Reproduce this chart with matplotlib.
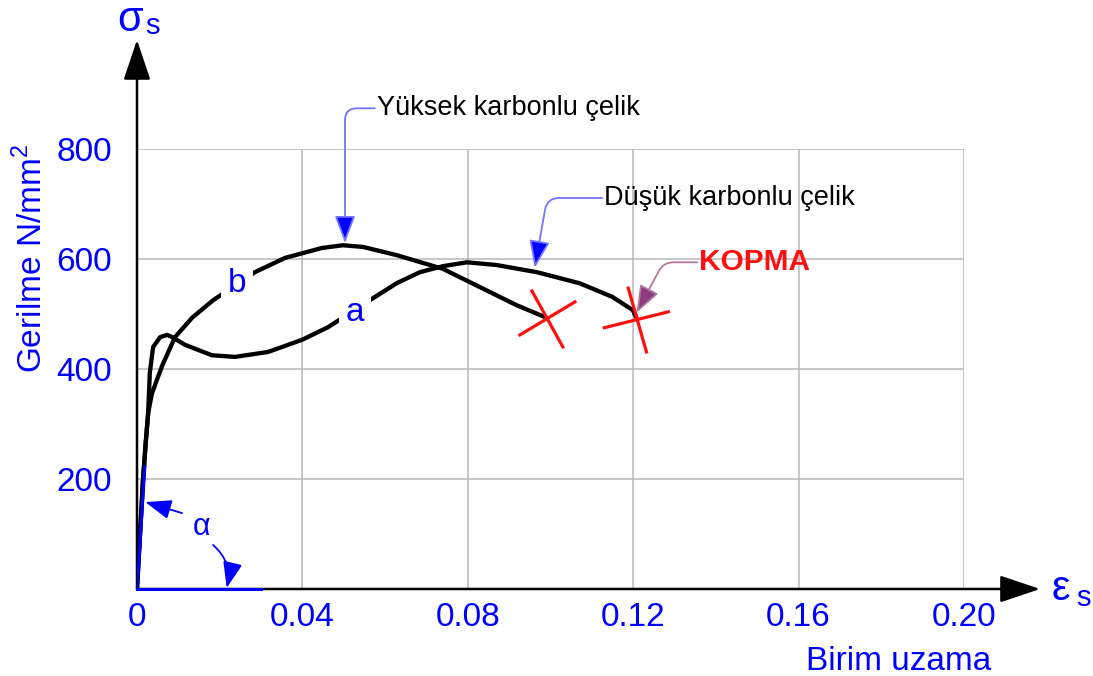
import numpy as np
import matplotlib.pyplot as plt

plt.rcParams['font.family'] = ['Liberation Sans', 'DejaVu Sans']
plt.rcParams['mathtext.fontset'] = 'custom'
plt.rcParams['mathtext.rm'] = 'Liberation Sans'

# a: dusuk karbonlu celik
eps_a = [0, 0.0007, 0.00145, 0.0021, 0.0027, 0.0031, 0.0039, 0.0056, 0.0073, 0.0085,
         0.0116, 0.0181, 0.0237, 0.0317, 0.0399, 0.0462, 0.0563, 0.0628, 0.0684, 0.074,
         0.0798, 0.087, 0.0967, 0.107, 0.115, 0.1199, 0.1208]
sig_a = [0, 95, 198, 265, 320, 393, 440, 458, 462, 458,
         444, 425, 422, 431, 453, 476, 525, 556, 576, 587,
         594, 589, 576, 556, 531, 507, 493]

# b: yuksek karbonlu celik
eps_b = [0, 0.0007, 0.00145, 0.0021, 0.0027, 0.0036, 0.0048, 0.0062, 0.0092, 0.0133,
         0.0184, 0.0285, 0.0358, 0.0447, 0.0498, 0.0546, 0.0628, 0.074, 0.0829, 0.0918,
         0.0991]
sig_b = [0, 95, 198, 265, 320, 355, 380, 408, 458, 493,
         525, 576, 602, 620, 625, 622, 607, 582, 549, 516,
         493]

# elastik bolge (mavi)
eps_e = [0, 0.0019]
sig_e = [0, 222]
eps_base = [0, 0.030]

xticks = [0, 0.04, 0.08, 0.12, 0.16, 0.20]
xticklabels = ['0', '0.04', '0.08', '0.12', '0.16', '0.20']
yticks = [200, 400, 600, 800]

BLUE = '#0000ff'
RED = '#ff1010'

fig = plt.figure(figsize=(10.93, 6.76), dpi=100)
ax = fig.add_axes([137/1093, 87/676, 827/1093, 440/676])
ax.set_xlim(0, 0.20)
ax.set_ylim(0, 800)
for s in ax.spines.values():
    s.set_visible(False)
ax.set_xticks(xticks, xticklabels)
ax.set_yticks(yticks)
ax.tick_params(length=0, labelsize=24, labelcolor=BLUE)
ax.tick_params(axis='x', pad=9)
ax.tick_params(axis='y', pad=18)
ax.grid(True, color='#b8b8b8', lw=1.1)
ax.set_axisbelow(True)

# eksen oklari
ax.annotate('', xy=(1.092, 0), xytext=(0, 0), xycoords='axes fraction',
            arrowprops=dict(arrowstyle='-|>,head_length=1.25,head_width=0.42', mutation_scale=20,
                            lw=1.8, color='black', shrinkA=0, shrinkB=0),
            annotation_clip=False, zorder=5)
ax.annotate('', xy=(0, 1.248), xytext=(0, 0), xycoords='axes fraction',
            arrowprops=dict(arrowstyle='-|>,head_length=1.25,head_width=0.42', mutation_scale=20,
                            lw=1.8, color='black', shrinkA=0, shrinkB=0),
            annotation_clip=False, zorder=5)

ax.text(-0.0085, 1.268, 'σ', transform=ax.transAxes, fontsize=30, color=BLUE, ha='center', va='baseline')
ax.text(0.019, 1.262, 's', transform=ax.transAxes, fontsize=21, color=BLUE, ha='center', va='baseline')
ax.text(1.1175, -0.025, 'ε', transform=ax.transAxes, fontsize=30, color=BLUE, ha='center', va='baseline')
ax.text(1.145, -0.039, 's', transform=ax.transAxes, fontsize=21, color=BLUE, ha='center', va='baseline')

ax.text(-0.127, 0.752, 'Gerilme N/mm$^\\mathregular{2}$', transform=ax.transAxes, fontsize=24,
        color=BLUE, rotation=90, ha='center', va='center')
ax.text(0.921, -0.184, 'Birim uzama', transform=ax.transAxes, fontsize=24, color=BLUE,
        ha='center', va='baseline')

# egriler
ax.plot(eps_a, sig_a, color='black', lw=3.1, solid_capstyle='round', solid_joinstyle='round', zorder=3)
ax.plot(eps_b, sig_b, color='black', lw=3.1, solid_capstyle='round', solid_joinstyle='round', zorder=3)
ax.plot(eps_e, sig_e, color=BLUE, lw=2.2, zorder=6)
ax.plot(eps_base, [0, 0], color=BLUE, lw=2.2, zorder=6, clip_on=False)

ax.text(0.0527, 502, 'a', fontsize=24, color=BLUE, ha='center', va='center', zorder=4,
        bbox=dict(fc='white', ec='none', pad=5))
ax.text(0.0242, 555, 'b', fontsize=24, color=BLUE, ha='center', va='center', zorder=4,
        bbox=dict(fc='white', ec='none', pad=5))

# kopma isaretleri
cross_b = [[(-0.0065, -31), (0.0068, 29)], [(-0.0036, 49), (0.0039, -53)]]
cross_a = [[(-0.0078, -18), (0.0077, 11)], [(-0.0020, 54), (0.0024, -62)]]
for (ex, sy), cross in [((eps_b[-1], sig_b[-1]), cross_b), ((eps_a[-1], sig_a[-1]), cross_a)]:
    for (dx1, dy1), (dx2, dy2) in cross:
        ax.plot([ex + dx1, ex + dx2], [sy + dy1, sy + dy2], color=RED, lw=2.3, zorder=5)

# etiketler
ax.text(0.058, 874, 'Yüksek karbonlu çelik', fontsize=19.5, color='black', ha='left', va='center')
ax.annotate('', xy=(0.0503, 629), xytext=(0.0575, 874),
            arrowprops=dict(arrowstyle='-|>,head_length=0.85,head_width=0.32', mutation_scale=20,
                            connectionstyle='angle,angleA=0,angleB=90,rad=12',
                            ec='#7474ff', fc=BLUE, lw=1.3, shrinkA=0, shrinkB=0),
            annotation_clip=False)

ax.text(0.1129, 711, 'Düşük karbonlu çelik', fontsize=19.5, color='black', ha='left', va='center')
ax.annotate('', xy=(0.0962, 584), xytext=(0.1125, 711),
            arrowprops=dict(arrowstyle='-|>,head_length=0.85,head_width=0.32', mutation_scale=20,
                            connectionstyle='angle,angleA=0,angleB=80,rad=12',
                            ec='#7474ff', fc=BLUE, lw=1.3, shrinkA=0, shrinkB=0),
            annotation_clip=False)

ax.text(0.136, 594, 'KOPMA', fontsize=21.5, fontweight='bold', color=RED, ha='left', va='center')
ax.annotate('', xy=(0.1208, 502), xytext=(0.1355, 594),
            arrowprops=dict(arrowstyle='-|>,head_length=0.85,head_width=0.32', mutation_scale=20,
                            connectionstyle='angle,angleA=0,angleB=62,rad=10',
                            ec='#b47a9c', fc='#8e3a80', lw=1.3, shrinkA=0, shrinkB=0),
            annotation_clip=False)

# alfa acisi
ax.text(0.0157, 113, 'α', fontsize=22, color=BLUE, ha='center', va='center')
ax.annotate('', xy=(0.002, 158), xytext=(0.0109, 138),
            arrowprops=dict(arrowstyle='-|>,head_length=0.8,head_width=0.3', mutation_scale=20,
                            color=BLUE, lw=1.3, shrinkA=0, shrinkB=0))
ax.annotate('', xy=(0.0217, 2), xytext=(0.0184, 80),
            arrowprops=dict(arrowstyle='-|>,head_length=0.8,head_width=0.3', mutation_scale=20,
                            connectionstyle='arc3,rad=-0.3',
                            color=BLUE, lw=1.3, shrinkA=0, shrinkB=0))

fig.savefig('out.png', dpi=100)
